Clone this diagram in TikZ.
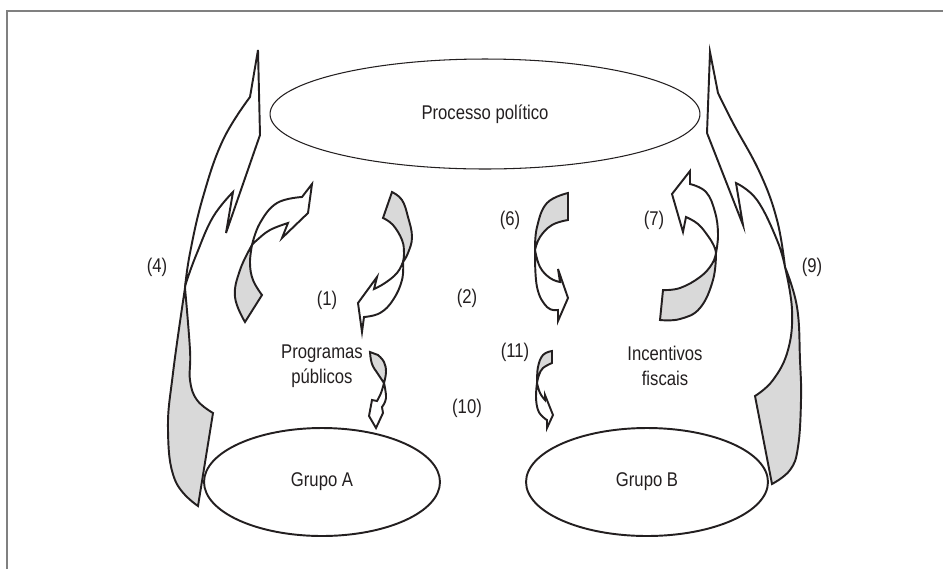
\documentclass[tikz,border=0pt]{standalone}
\usepackage{fontspec}
\setmainfont{Liberation Sans}[FakeStretch=0.84]
\usetikzlibrary{shapes.geometric}
\definecolor{ink}{HTML}{231F20}
\definecolor{shade}{HTML}{D9D9D9}
\definecolor{framegray}{HTML}{808080}

\begin{document}
\begin{tikzpicture}[x=0.02cm,y=-0.02cm,
    ribbon/.style={draw=ink,line width=1.1pt,line join=miter,fill=white},
    ribbonback/.style={ribbon,fill=shade},
    oval/.style={ellipse,draw=ink,line width=1.1pt,inner sep=0pt,text=ink,
        font=\fontsize{11.3}{14.5}\selectfont},
    lbl/.style={inner sep=0pt,text=ink,align=center,
        font=\fontsize{11.3}{14.5}\selectfont}]
\useasboundingbox (0,0) rectangle (943,569);
\draw[framegray,line width=1.2pt] (7,569) -- (7,11) -- (943,11);

\node[oval,line width=0.6pt,minimum width=8.6cm,minimum height=2.2cm] (proc) at (485,114) {Processo político};
\node[oval,minimum width=4.72cm,minimum height=2.16cm] (grpA) at (322,482) {Grupo A};
\node[oval,minimum width=4.84cm,minimum height=2.16cm] (grpB) at (647,482) {Grupo B};

\node[lbl] (prog) at (322,366) {Programas\\públicos};
\node[lbl] (incent) at (665,366) {Incentivos\\fiscais};
\node[lbl] (n4) at (157,267) {(4)};
\node[lbl] (n1) at (327,300) {(1)};
\node[lbl] (n2) at (467,298) {(2)};
\node[lbl] (n6) at (510,220) {(6)};
\node[lbl] (n7) at (654,220) {(7)};
\node[lbl] (n9) at (812,267) {(9)};
\node[lbl] (n11) at (515,352) {(11)};
\node[lbl] (n10) at (467,408) {(10)};

% (4)
\draw[ribbon] (185,288) -- plot[smooth,tension=0.7] coordinates {(185,288) (190,253) (203,197) (223,140) (250,97)}
    -- (258,50) -- (260,135) -- (226,233) -- (233,192)
    -- plot[smooth,tension=0.7] coordinates {(233,192) (213,217) (197,253) (187,280) (185,288)} -- cycle;
\draw[ribbonback] (185,288) -- plot[smooth,tension=0.7] coordinates {(185,288) (173,373) (168,430) (175,480) (198,506)}
    -- (213,413) -- plot[smooth,tension=0.7] coordinates {(213,413) (197,400) (190,380) (190,350) (185,288)} -- cycle;

% (9)
\draw[ribbon] (785,267) -- plot[smooth,tension=0.7] coordinates {(785,267) (777,220) (760,173) (733,123) (718,93)}
    -- (710,52) -- (707,133) -- (743,225) -- (736,183)
    -- plot[smooth,tension=0.7] coordinates {(736,183) (757,200) (777,240) (785,267)} -- cycle;
\draw[ribbonback] (785,267) -- plot[smooth,tension=0.7] coordinates {(785,267) (792,310) (788,350) (773,380) (755,396)}
    -- (772,484) -- plot[smooth,tension=0.7] coordinates {(772,484) (790,470) (798,447) (801,400) (800,360) (797,307) (785,267)} -- cycle;

% upper left
\draw[ribbon] (252,245) -- plot[smooth,tension=0.7] coordinates {(252,245) (260,223) (277,203) (302,197)}
    -- (312,184) -- (308,213) -- (282,238) -- (288,223)
    -- plot[smooth,tension=0.7] coordinates {(288,223) (270,230) (257,240) (252,245)} -- cycle;
\draw[ribbonback] (252,245) -- plot[smooth,tension=0.7] coordinates {(252,245) (240,270) (235,297) (245,322)}
    -- (262,295) -- plot[smooth,tension=0.7] coordinates {(262,295) (253,280) (250,263) (252,245)} -- cycle;

% (1)
\draw[ribbonback] (403,262) -- plot[smooth,tension=0.7] coordinates {(403,262) (408,253) (412,237) (408,217) (402,200) (392,192)}
    -- (383,218) -- plot[smooth,tension=0.7] coordinates {(383,218) (393,225) (402,240) (404,253) (403,262)} -- cycle;
\draw[ribbon] (403,262) -- plot[smooth,tension=0.7] coordinates {(403,262) (397,273) (385,283) (374,289)}
    -- (377,277) -- (358,303) -- (362,332) -- (364,317)
    -- plot[smooth,tension=0.7] coordinates {(364,317) (380,313) (393,300) (402,280) (403,262)} -- cycle;

% (6)
\draw[ribbonback] (535,250) -- plot[smooth,tension=0.7] coordinates {(535,250) (537,227) (547,203) (568,193)}
    -- (568,220) -- plot[smooth,tension=0.7] coordinates {(568,220) (552,225) (540,237) (535,250)} -- cycle;
\draw[ribbon] (535,250) -- plot[smooth,tension=0.7] coordinates {(535,250) (540,267) (550,278) (560,282)}
    -- (558,269) -- (568,298) -- (558,321) -- (558,310)
    -- plot[smooth,tension=0.7] coordinates {(558,310) (547,307) (537,287) (535,250)} -- cycle;

% (7)
\draw[ribbon] (716,253) -- plot[smooth,tension=0.7] coordinates {(716,253) (718,234) (715,212) (706,192) (690,184)}
    -- (690,171) -- (672,194) -- (683,232) -- (686,217)
    -- plot[smooth,tension=0.7] coordinates {(686,217) (698,224) (708,236) (714,246) (716,253)} -- cycle;
\draw[ribbonback] (716,253) -- plot[smooth,tension=0.7] coordinates {(716,253) (713,280) (700,308) (680,319) (660,320)}
    -- (663,290) -- plot[smooth,tension=0.7] coordinates {(663,290) (680,288) (700,277) (712,264) (716,253)} -- cycle;

% programas
\draw[ribbonback] (384,383) -- plot[smooth,tension=0.7] coordinates {(384,383) (378,374) (372,364) (370,352)}
    -- (378,355) -- plot[smooth,tension=0.7] coordinates {(378,355) (384,362) (386,372) (384,383)} -- cycle;
\draw[ribbon] (384,383) -- plot[smooth,tension=0.7] coordinates {(384,383) (381,393) (377,401)}
    -- (372,400) -- (369,416) -- (376,428) -- (383,413) -- (382,407)
    -- plot[smooth,tension=0.7] coordinates {(382,407) (386,398) (384,383)} -- cycle;

% (11)
\draw[ribbonback] (537,383) -- plot[smooth,tension=0.7] coordinates {(537,383) (538,367) (543,355) (552,351)}
    -- (552,363) -- plot[smooth,tension=0.7] coordinates {(552,363) (543,368) (539,375) (537,383)} -- cycle;
\draw[ribbon] (537,383) -- plot[smooth,tension=0.7] coordinates {(537,383) (540,393) (545,400)}
    -- (545,395) -- (553,415) -- (547,428) -- (547,420)
    -- plot[smooth,tension=0.7] coordinates {(547,420) (543,417) (538,410) (536,397) (537,383)} -- cycle;
\end{tikzpicture}
\end{document}
